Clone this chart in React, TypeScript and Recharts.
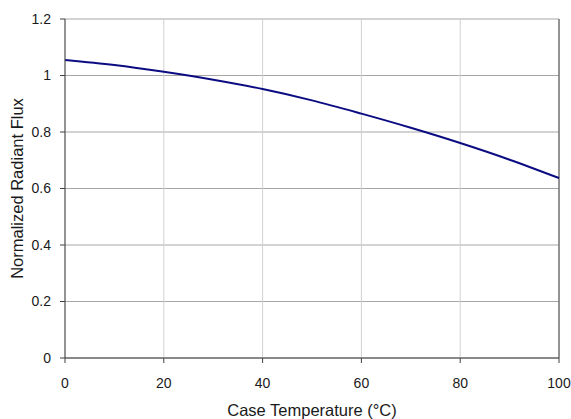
import React from "react";
import {
  LineChart,
  Line,
  XAxis,
  YAxis,
  CartesianGrid,
  ReferenceLine,
  Label,
} from "recharts";

const temperatures = [0, 10, 20, 30, 40, 50, 60, 70, 80, 90, 100];
const flux = [1.055, 1.037, 1.013, 0.985, 0.952, 0.912, 0.865, 0.815, 0.761, 0.702, 0.637];
const xTicks = [0, 20, 40, 60, 80, 100];
const yTicks = [0, 0.2, 0.4, 0.6, 0.8, 1, 1.2];

const data = temperatures.map((t, i) => ({ temp: t, flux: flux[i] }));

const axisColor = "#404040";
const font = { fontFamily: "Liberation Sans, Arial, sans-serif", fontSize: 14, fill: "#1a1a1a" };

export default function App() {
  return (
    <div style={{ position: "absolute", left: 0, top: 0, background: "#fff" }}>
      <LineChart
        width={571}
        height={419}
        data={data}
        margin={{ top: 19, right: 12, left: 0, bottom: 0 }}
      >
        <CartesianGrid horizontal={true} vertical={false} stroke="#a6a6a6" />
        <CartesianGrid horizontal={false} vertical={true} stroke="#d0d0d0" />
        <XAxis
          dataKey="temp"
          type="number"
          domain={[0, 100]}
          ticks={xTicks}
          height={61}
          tickSize={5}
          tickMargin={15}
          stroke={axisColor}
          tick={font}
          interval={0}
        >
          <Label
            value="Case Temperature (°C)"
            position="insideBottom"
            offset={3}
            style={{ ...font, fontSize: 16.5 }}
          />
        </XAxis>
        <YAxis
          type="number"
          domain={[0, 1.2]}
          ticks={yTicks}
          width={65}
          tickSize={5}
          tickMargin={9}
          stroke={axisColor}
          tick={font}
          interval={0}
        >
          <Label
            value="Normalized Radiant Flux"
            angle={-90}
            position="insideLeft"
            offset={17}
            style={{ ...font, fontSize: 16.5, textAnchor: "middle" }}
          />
        </YAxis>
        <ReferenceLine x={100} stroke={axisColor} />
        <Line
          type="monotone"
          dataKey="flux"
          stroke="#0c0c82"
          strokeWidth={2}
          dot={false}
          isAnimationActive={false}
        />
      </LineChart>
    </div>
  );
}
